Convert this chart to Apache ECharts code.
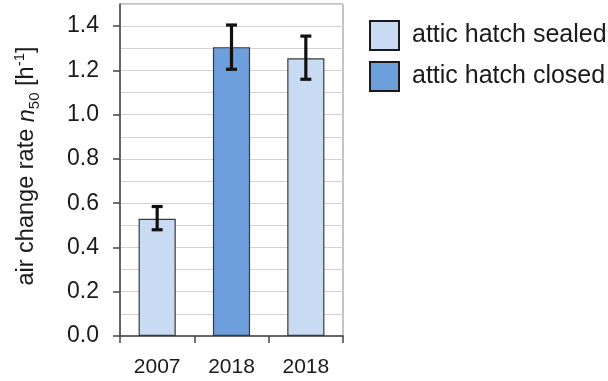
<!DOCTYPE html>
<html>
<head>
<meta charset="utf-8">
<script src="https://cdn.jsdelivr.net/npm/echarts@6/dist/echarts.min.js"></script>
<style>html,body{margin:0;padding:0;background:#fff;}#c{width:608px;height:381px;}</style>
</head>
<body>
<div id="c"></div>
<script>
const categories = ['2007', '2018', '2018'];
const sealedValues = [0.53, null, 1.255];
const closedValues = [null, 1.305, null];
const errLow = [0.48, 1.205, 1.16];
const errHigh = [0.585, 1.405, 1.355];
const seriesNames = ['attic hatch sealed', 'attic hatch closed'];

const FONT = 'Liberation Sans, Arial, sans-serif';
const TXT = '#1a1a1a';
const chart = echarts.init(document.getElementById('c'), null, {renderer: 'canvas'});

const errData = categories.map((c, i) => [i, errLow[i], errHigh[i]]);

chart.setOption({
  animation: false,
  backgroundColor: '#fff',
  textStyle: {fontFamily: FONT},
  grid: {left: 120, right: 265, top: 4, bottom: 45, show: true, borderColor: '#8a8a8a', borderWidth: 1, backgroundColor: 'transparent'},
  legend: {
    orient: 'vertical', left: 369, top: 20, icon: 'rect', padding: 0,
    itemWidth: 29, itemHeight: 29, itemGap: 10,
    itemStyle: {borderColor: '#1a1a1a', borderWidth: 2},
    textStyle: {fontSize: 25, color: TXT, fontFamily: FONT, padding: [0, 0, 0, 8]},
    data: seriesNames
  },
  xAxis: {
    type: 'category', data: categories,
    axisLine: {lineStyle: {color: '#444', width: 1.5}},
    axisTick: {show: true, alignWithLabel: false, length: 7, lineStyle: {color: '#444', width: 1.5}},
    axisLabel: {fontSize: 21, color: TXT, margin: 21, fontFamily: FONT},
    splitLine: {show: false}
  },
  yAxis: [
    {
      type: 'value', min: 0, max: 1.5, interval: 0.1, position: 'left',
      axisLine: {show: true, lineStyle: {color: '#444', width: 1.5}},
      axisTick: {show: false},
      axisLabel: {show: false},
      splitLine: {show: true, lineStyle: {color: '#d2d2d2', width: 1}}
    },
    {
      type: 'value', min: 0, max: 1.5, interval: 0.2, position: 'left', offset: 0,
      axisLine: {show: false},
      axisTick: {show: true, length: 7, lineStyle: {color: '#444', width: 1.5}},
      axisLabel: {fontSize: 23, color: TXT, margin: 21, fontFamily: FONT, showMaxLabel: false,
        formatter: v => (Math.abs(v - 1.5) < 1e-9 ? '' : v.toFixed(1))},
      splitLine: {show: false},
      name: '{a|air change rate }{i|n}{s|50}{a| [h}{p|-1}{a|]}',
      nameLocation: 'middle', nameRotate: 90, nameGap: 78,
      nameTextStyle: {
        fontFamily: FONT, color: TXT, padding: [0, 0, 0, 8],
        rich: {
          a: {fontSize: 23.5, color: TXT, fontFamily: FONT, lineHeight: 30, verticalAlign: 'middle'},
          i: {fontSize: 23.5, color: TXT, fontFamily: FONT, fontStyle: 'italic', lineHeight: 30, verticalAlign: 'middle'},
          s: {fontSize: 15, color: TXT, fontFamily: FONT, lineHeight: 17, verticalAlign: 'bottom'},
          p: {fontSize: 15, color: TXT, fontFamily: FONT, lineHeight: 22, verticalAlign: 'top'}
        }
      }
    }
  ],
  series: [
    {
      name: seriesNames[0], type: 'bar', stack: 'one', data: sealedValues, barWidth: '50%',
      itemStyle: {color: '#c9dbf2', borderColor: '#3a3a3a', borderWidth: 1.2}
    },
    {
      name: seriesNames[1], type: 'bar', stack: 'one', data: closedValues, barWidth: '50%',
      itemStyle: {color: '#6c9fdb', borderColor: '#3a3a3a', borderWidth: 1.2}
    },
    {
      type: 'custom', name: 'err', data: errData, z: 10,
      renderItem: function (params, api) {
        const x = api.value(0);
        const lo = api.coord([x, api.value(1)]);
        const hi = api.coord([x, api.value(2)]);
        const hw = 5.5;
        const st = {stroke: '#111', lineWidth: 3.2};
        return {
          type: 'group',
          children: [
            {type: 'line', shape: {x1: lo[0], y1: lo[1], x2: hi[0], y2: hi[1]}, style: st},
            {type: 'line', shape: {x1: lo[0] - hw, y1: lo[1], x2: lo[0] + hw, y2: lo[1]}, style: st},
            {type: 'line', shape: {x1: hi[0] - hw, y1: hi[1], x2: hi[0] + hw, y2: hi[1]}, style: st}
          ]
        };
      }
    }
  ]
});
</script>
</body>
</html>
